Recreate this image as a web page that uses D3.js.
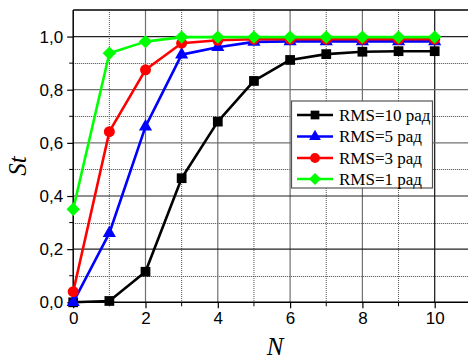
<!DOCTYPE html>
<html><head><meta charset="utf-8">
<script src="https://cdn.jsdelivr.net/npm/d3@7"></script>
<style>body{margin:0;background:#fff}svg{display:block}</style>
</head><body>
<svg id="c" width="468" height="362"></svg>
<script>
const nValues = [0,1,2,3,4,5,6,7,8,9,10];
const rms10 = [0.0,0.005,0.115,0.467,0.68,0.833,0.912,0.934,0.943,0.945,0.945];
const rms5  = [0.0,0.26,0.661,0.932,0.96,0.98,0.982,0.982,0.982,0.982,0.982];
const rms3  = [0.04,0.642,0.875,0.975,0.986,0.99,0.99,0.99,0.99,0.99,0.99];
const rms1  = [0.35,0.937,0.981,0.998,0.998,0.998,0.998,0.998,0.998,0.998,0.998];
const seriesNames = ["RMS=10 рад","RMS=5 рад","RMS=3 рад","RMS=1 рад"];
const xTicks = [0,2,4,6,8,10];
const yTicks = [0,0.2,0.4,0.6,0.8,1.0];
const yTickLabels = ["0,0","0,2","0,4","0,6","0,8","1,0"];

const SERIF = "'Liberation Serif','Times New Roman',Times,serif";
const SANS = "'Liberation Sans',Arial,Helvetica,sans-serif";

const series = [
  {name: seriesNames[0], values: rms10, color:"#000000", sym: d3.symbolSquare, size: 95, rot: 0},
  {name: seriesNames[1], values: rms5,  color:"#0000ff", sym: d3.symbolTriangle, size: 75, rot: 0},
  {name: seriesNames[2], values: rms3,  color:"#ff0000", sym: d3.symbolCircle, size: 95, rot: 0},
  {name: seriesNames[3], values: rms1,  color:"#00ff00", sym: d3.symbolSquare, size: 90, rot: 45}
];

const svg = d3.select("#c");
const L = 73.2, T = 10, B = 302.3, R = 468;
const x = d3.scaleLinear().domain([0,10]).range([L, 434.7]);
const y = d3.scaleLinear().domain([0,1.1]).range([B, T]);

const g = svg.append("g");
// grid minor
const xMinor = d3.range(1, 11, 2);
const yMinor = d3.range(0.1, 1.1, 0.2);
g.selectAll(".vminor").data(xMinor).join("line")
  .attr("x1", d=>x(d)).attr("x2", d=>x(d)).attr("y1", T).attr("y2", B)
  .attr("stroke", "#555").attr("stroke-width", 1).attr("stroke-dasharray", "1,1");
g.selectAll(".hminor").data(yMinor).join("line")
  .attr("x1", L).attr("x2", R).attr("y1", d=>Math.round(y(d))+0.5).attr("y2", d=>Math.round(y(d))+0.5)
  .attr("stroke", "#444").attr("stroke-width", 1).attr("stroke-dasharray", "1,1");
// grid major
g.selectAll(".vmajor").data(xTicks.slice(1)).join("line")
  .attr("x1", d=>x(d)).attr("x2", d=>x(d)).attr("y1", T).attr("y2", B)
  .attr("stroke", d=> d===10 ? "#111" : "#707070").attr("stroke-width", 1.2);
g.selectAll(".hmajor").data(yTicks.slice(1)).join("line")
  .attr("x1", L).attr("x2", R).attr("y1", d=>y(d)).attr("y2", d=>y(d))
  .attr("stroke", d=> (d===0.8||d===0.6) ? "#707070" : "#222").attr("stroke-width", 1.2);
// top border
g.append("line").attr("x1", L).attr("x2", R).attr("y1", T).attr("y2", T).attr("stroke","#000").attr("stroke-width",1.5);

// axes
const xAxis = d3.axisBottom(x).tickValues(xTicks).tickSize(6).tickSizeOuter(0).tickPadding(4).tickFormat(d3.format("d"));
const xAx = svg.append("g").attr("transform", `translate(0,${B})`).call(xAxis);
xAx.select(".domain").remove();
xAx.append("line").attr("x1", L).attr("x2", R).attr("stroke","#000").attr("stroke-width",1.5);
xAx.selectAll(".minor").data(xMinor).join("line").attr("class","minor")
  .attr("x1", d=>x(d)).attr("x2", d=>x(d)).attr("y1",0).attr("y2",4).attr("stroke","#000");
xAx.selectAll(".tick line").attr("stroke-width",1.2);
xAx.selectAll("text").attr("font-family",SANS).attr("font-size",17).attr("fill","#000");

const yAxis = d3.axisLeft(y).tickValues(yTicks).tickSize(6).tickSizeOuter(0).tickPadding(4)
  .tickFormat((d,i)=>yTickLabels[i]);
const yAx = svg.append("g").attr("transform", `translate(${L},0)`).call(yAxis);
yAx.select(".domain").remove();
yAx.append("line").attr("y1", T).attr("y2", B).attr("stroke","#000").attr("stroke-width",1.5);
yAx.selectAll(".minor").data(yMinor).join("line").attr("class","minor")
  .attr("y1", d=>y(d)).attr("y2", d=>y(d)).attr("x1",0).attr("x2",-4).attr("stroke","#000");
yAx.selectAll(".tick line").attr("stroke-width",1.2);
yAx.selectAll("text").attr("font-family",SANS).attr("font-size",17).attr("fill","#000");

// titles
svg.append("text").attr("x", 275).attr("y", 355).attr("text-anchor","middle")
  .attr("font-family",SERIF).attr("font-style","italic")
  .attr("font-size",25).text("N");
svg.append("text").attr("transform","translate(26,166) rotate(-90)").attr("text-anchor","middle")
  .attr("font-family",SERIF).attr("font-style","italic")
  .attr("font-size",25).text("St");

// series
const line = d3.line().x((d,i)=>x(nValues[i])).y(d=>y(d));
series.forEach(s => {
  const sg = svg.append("g");
  sg.append("path").datum(s.values).attr("d", line).attr("fill","none")
    .attr("stroke", s.color).attr("stroke-width", 2.6).attr("stroke-linejoin","round");
  sg.selectAll("path.m").data(s.values).join("path").attr("class","m")
    .attr("d", d3.symbol().type(s.sym).size(s.size))
    .attr("transform", (d,i)=>`translate(${x(nValues[i])},${y(d)}) rotate(${s.rot})`)
    .attr("fill", s.color);
});

// legend
const lg = svg.append("g");
lg.append("rect").attr("x", 291.5).attr("y", 101).attr("width", 141).attr("height", 87)
  .attr("fill","#fff").attr("stroke","#555").attr("stroke-width",1.2);
const rowsY = [115, 136.5, 158, 179];
series.forEach((s,i) => {
  const yy = rowsY[i];
  lg.append("line").attr("x1", 297).attr("x2", 333).attr("y1", yy).attr("y2", yy)
    .attr("stroke", s.color).attr("stroke-width", 2.6);
  lg.append("path").attr("d", d3.symbol().type(s.sym).size(s.size*0.8))
    .attr("transform", `translate(315,${yy}) rotate(${s.rot})`).attr("fill", s.color);
  lg.append("text").attr("x", 339).attr("y", yy+5.5)
    .attr("font-family",SERIF).attr("font-size",17)
    .text(s.name);
});
</script>
</body></html>
